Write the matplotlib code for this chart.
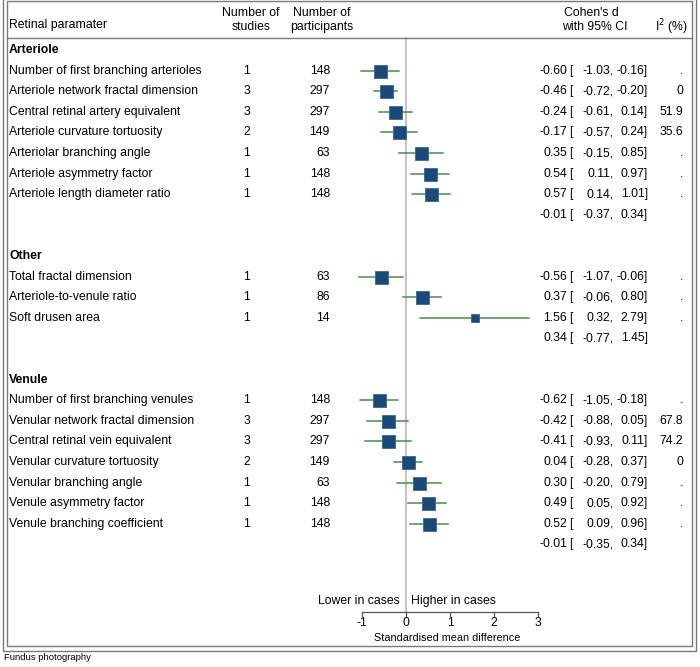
import numpy as np
import matplotlib
matplotlib.use("Agg")
from matplotlib import pyplot as plt
from matplotlib.patches import Rectangle

plt.rcParams['font.family'] = ['Liberation Sans', 'DejaVu Sans']

# ---- data ----
groups = ['Arteriole', 'Other', 'Venule']

labels = [
    ['Number of first branching arterioles', 'Arteriole network fractal dimension',
     'Central retinal artery equivalent', 'Arteriole curvature tortuosity',
     'Arteriolar branching angle', 'Arteriole asymmetry factor',
     'Arteriole length diameter ratio'],
    ['Total fractal dimension', 'Arteriole-to-venule ratio', 'Soft drusen area'],
    ['Number of first branching venules', 'Venular network fractal dimension',
     'Central retinal vein equivalent', 'Venular curvature tortuosity',
     'Venular branching angle', 'Venule asymmetry factor',
     'Venule branching coefficient'],
]
n_studies = [[1, 3, 3, 2, 1, 1, 1], [1, 1, 1], [1, 3, 3, 2, 1, 1, 1]]
n_part = [[148, 297, 297, 149, 63, 148, 148], [63, 86, 14],
          [148, 297, 297, 149, 63, 148, 148]]
d = [[-0.60, -0.46, -0.24, -0.17, 0.35, 0.54, 0.57], [-0.56, 0.37, 1.56],
     [-0.62, -0.42, -0.41, 0.04, 0.30, 0.49, 0.52]]
lo = [[-1.03, -0.72, -0.61, -0.57, -0.15, 0.11, 0.14], [-1.07, -0.06, 0.32],
      [-1.05, -0.88, -0.93, -0.28, -0.20, 0.05, 0.09]]
hi = [[-0.16, -0.20, 0.14, 0.24, 0.85, 0.97, 1.01], [-0.06, 0.80, 2.79],
      [-0.18, 0.05, 0.11, 0.37, 0.79, 0.92, 0.96]]
i2 = [['.', '0', '51.9', '35.6', '.', '.', '.'], ['.', '.', '.'],
      ['.', '67.8', '74.2', '0', '.', '.', '.']]
pooled = [(-0.01, -0.37, 0.34), (0.34, -0.77, 1.45), (-0.01, -0.35, 0.34)]
xticks = [-1, 0, 1, 2, 3]

# ---- layout (pixels of a 700x667 canvas) ----
W, H = 700, 667
X0, UNIT = 406, 44          # pixel of d=0 and pixels per unit
ROW0, STEP = 50, 20.6       # pixel of first row and row spacing
FS = 8.8
ci_col = '#4a8c4a'
sq_col = '#1b4a78'


def px(x):
    return (x - X0) / UNIT


def py(y):
    return (y - ROW0) / STEP


fig = plt.figure(figsize=(W / 100, H / 100), dpi=100)
ax = fig.add_axes([0, 0, 1, 1])
ax.set_xlim(px(0), px(W))
ax.set_ylim(py(H), py(0))
ax.axis('off')

# frames
for (x0, y0, x1, y1) in [(2.7, -3, 696.3, 651), (6.7, 1, 691.5, 645.7)]:
    fig.patches.append(Rectangle((x0 / W, 1 - y1 / H), (x1 - x0) / W, (y1 - y0) / H,
                                 transform=fig.transFigure, fill=False,
                                 ec='#7a7a7a', lw=1.0))

# header
ax.plot([px(6.7), px(691.5)], [py(38), py(38)], color='#7a7a7a', lw=1.0)
ax.text(px(9), py(25), 'Retinal paramater', fontsize=FS, va='center')
ax.text(px(251), py(13), 'Number of', fontsize=FS, va='center', ha='center')
ax.text(px(251), py(27), 'studies', fontsize=FS, va='center', ha='center')
ax.text(px(322), py(13), 'Number of', fontsize=FS, va='center', ha='center')
ax.text(px(322), py(27), 'participants', fontsize=FS, va='center', ha='center')
ax.text(px(591), py(13), "Cohen's d", fontsize=FS, va='center', ha='center')
ax.text(px(595), py(27), 'with 95% CI', fontsize=FS, va='center', ha='center')
ax.text(px(688), py(27), r'I$^{2}$ (%)', fontsize=FS, va='center', ha='right')

# zero line
ax.plot([0, 0], [py(38), py(612)], color='#b8b8b8', lw=1.2, zorder=1)


def est_text(y, e, l, h):
    ax.text(px(567), y, '%.2f' % e, fontsize=FS, va='center', ha='right')
    ax.text(px(569), y, '[', fontsize=FS, va='center', ha='left')
    ax.text(px(614), y, '%.2f,' % l, fontsize=FS, va='center', ha='right')
    ax.text(px(648), y, '%.2f]' % h, fontsize=FS, va='center', ha='right')


row = 0
for g in range(len(groups)):
    ax.text(px(9), row, groups[g], fontsize=FS, va='center', fontweight='bold')
    row += 1
    for k in range(len(labels[g])):
        ax.text(px(9), row, labels[g][k], fontsize=FS, va='center')
        ax.text(px(247), row, str(n_studies[g][k]), fontsize=FS, va='center', ha='center')
        ax.text(px(330), row, str(n_part[g][k]), fontsize=FS, va='center', ha='right')
        ax.plot([lo[g][k], hi[g][k]], [row, row], color=ci_col, lw=1.1, zorder=2)
        side = 13 if n_part[g][k] > 50 else 8
        ax.plot(d[g][k], row, 's', ms=side * 0.72, color=sq_col,
                mec='#3a6690', mew=0.6, zorder=3)
        est_text(row, d[g][k], lo[g][k], hi[g][k])
        ax.text(px(683), row, i2[g][k], fontsize=FS, va='center', ha='right')
        row += 1
    est_text(row, *pooled[g])
    row += 2

# x axis
ya = py(612)
ax.plot([xticks[0], xticks[-1]], [ya, ya], color='#555555', lw=0.9)
for t in xticks:
    ax.plot([t, t], [ya, ya + 4 / STEP], color='#555555', lw=0.9)
    ax.text(t, py(623), str(t), fontsize=FS, va='center', ha='center')
ax.text(px(447), py(638), 'Standardised mean difference', fontsize=7.8,
        va='center', ha='center')
ax.text(px(400), py(601), 'Lower in cases', fontsize=FS, va='center', ha='right')
ax.text(px(411), py(601), 'Higher in cases', fontsize=FS, va='center', ha='left')

fig.text(4 / W, 1 - 657 / H, 'Fundus photography', fontsize=6.8, va='center', ha='left')

fig.savefig('out.png', dpi=100)
